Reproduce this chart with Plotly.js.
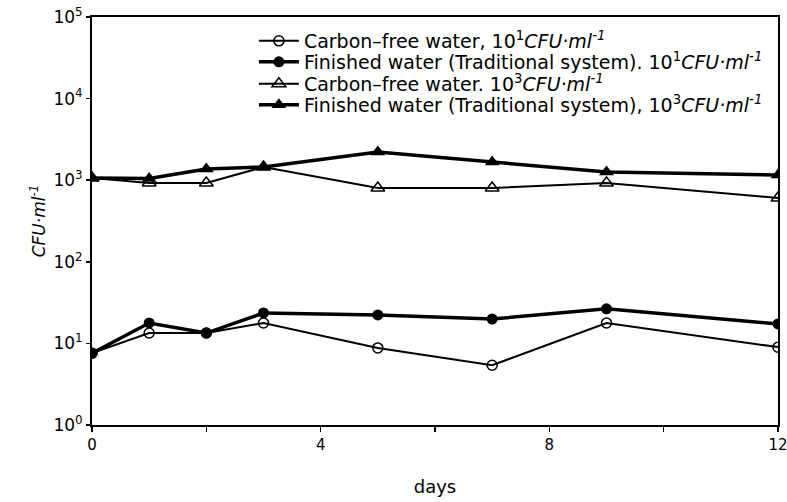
<!DOCTYPE html>
<html>
<head>
<meta charset="utf-8">
<script src="https://cdn.plot.ly/plotly-3.0.1.min.js"></script>
<style>html,body{margin:0;padding:0;background:#fff;}#chart{width:787px;height:502px;}</style>
</head>
<body>
<div id="chart"></div>
<script>
var days = [0, 1, 2, 3, 5, 7, 9, 12];
var carbonFree1 = [7.6, 13.4, 13.4, 17.8, 8.8, 5.4, 17.8, 9.0];
var finished1 = [7.6, 17.8, 13.4, 23.6, 22.3, 19.9, 26.5, 17.3];
var carbonFree3 = [1064, 925, 925, 1450, 802, 802, 925, 605];
var finished3 = [1064, 1050, 1372, 1450, 2217, 1671, 1260, 1158];
var seriesNames = [
  "Carbon\u2013free water, 10<sup>1</sup><i>CFU\u00b7ml<sup>-1</sup></i>",
  "Finished water (Traditional system). 10<sup>1</sup><i>CFU\u00b7ml<sup>-1</sup></i>",
  "Carbon\u2013free water. 10<sup>3</sup><i>CFU\u00b7ml<sup>-1</sup></i>",
  "Finished water (Traditional system), 10<sup>3</sup><i>CFU\u00b7ml<sup>-1</sup></i>"
];
var yTickVals = [1, 10, 100, 1000, 10000, 100000];
var yTickText = ["10<sup>0</sup>", "10<sup>1</sup>", "10<sup>2</sup>", "10<sup>3</sup>", "10<sup>4</sup>", "10<sup>5</sup>"];
var xTickVals = [0, 2, 4, 6, 8, 10, 12];
var xTickText = ["0", "", "4", "", "8", "", "12"];

var FONT = "DejaVu Sans, Liberation Sans, Arial, sans-serif";
var traces = [
  {x: days, y: carbonFree1, name: seriesNames[0], mode: "lines+markers", legend: "legend",
   line: {color: "#000", width: 2}, marker: {symbol: "circle-open", size: 10, color: "#000", line: {width: 1.5}}},
  {x: days, y: finished1, name: seriesNames[1], mode: "lines+markers", legend: "legend2",
   line: {color: "#000", width: 3.5}, marker: {symbol: "circle", size: 11, color: "#000"}},
  {x: days, y: carbonFree3, name: seriesNames[2], mode: "lines+markers", legend: "legend3",
   line: {color: "#000", width: 2}, marker: {symbol: "triangle-up-open", size: 12, color: "#000", line: {width: 1.5}}},
  {x: days, y: finished3, name: seriesNames[3], mode: "lines+markers", legend: "legend4",
   line: {color: "#000", width: 3.5}, marker: {symbol: "triangle-up", size: 13, color: "#000"}}
];

function leg(ypx) {
  return {x: 0.236, y: (425 - ypx) / 408, xanchor: "left", yanchor: "middle", bgcolor: "rgba(0,0,0,0)",
          font: {family: FONT, size: 19, color: "#000"}, itemwidth: 40, borderwidth: 0};
}

var layout = {
  width: 787, height: 502,
  margin: {l: 92, r: 9, t: 17, b: 77},
  paper_bgcolor: "#fff", plot_bgcolor: "#fff",
  font: {family: FONT, size: 16, color: "#000"},
  showlegend: true,
  legend: leg(41), legend2: leg(62), legend3: leg(84), legend4: leg(105),
  xaxis: {
    range: [0, 12], tickvals: xTickVals, ticktext: xTickText,
    ticks: "outside", ticklen: 5, tickwidth: 1.5, tickcolor: "#000",
    showline: true, linecolor: "#000", linewidth: 2, mirror: true,
    showgrid: false, zeroline: false, ticklabeloverflow: "allow",
    tickfont: {family: FONT, size: 15, color: "#000"},
    title: {text: "days", font: {family: FONT, size: 18, color: "#000"}, standoff: 27}
  },
  yaxis: {
    type: "log", range: [0, 5], tickvals: yTickVals, ticktext: yTickText,
    ticks: "outside", ticklen: 4, tickwidth: 1.5, tickcolor: "#000",
    showline: true, linecolor: "#000", linewidth: 2, mirror: true,
    showgrid: false, zeroline: false,
    tickfont: {family: FONT, size: 17, color: "#000"},
    title: {text: "<i>CFU\u00b7ml<sup>-1</sup></i>", font: {family: FONT, size: 17, color: "#000"}, standoff: 3}
  }
};

Plotly.newPlot("chart", traces, layout, {displayModeBar: false, staticPlot: true});
</script>
</body>
</html>
